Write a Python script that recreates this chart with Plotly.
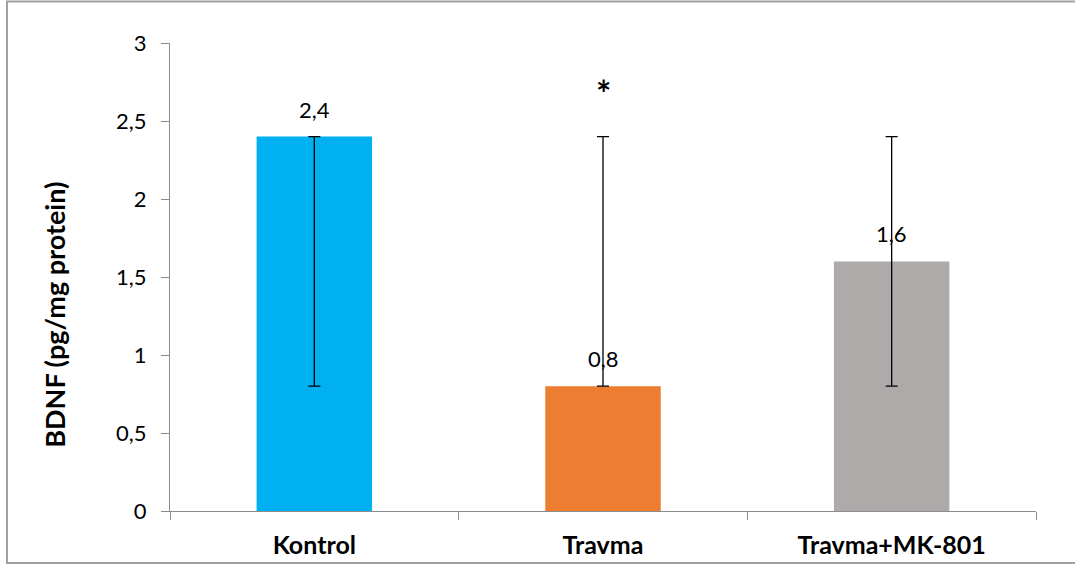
import plotly.graph_objects as go

groups = ["Kontrol", "Travma", "Travma+MK-801"]
bdnf = [2.4, 0.8, 1.6]
err_plus = [0.0, 1.6, 0.8]
err_minus = [1.6, 0.0, 0.8]
bar_colors = ["#00B0F0", "#ED7D31", "#AEAAAA"]
y_ticks = [0, 0.5, 1, 1.5, 2, 2.5, 3]

FONT = "Lato, 'Open Sans', sans-serif"
AXIS_GRAY = "#8C8C8C"

fig = go.Figure()
fig.add_trace(go.Bar(
    x=groups,
    y=bdnf,
    width=0.4,
    marker=dict(color=bar_colors, line=dict(width=0)),
    error_y=dict(type="data", symmetric=False, array=err_plus, arrayminus=err_minus,
                 color="#000000", thickness=1.3, width=6),
    showlegend=False,
))

# value labels just above each bar
for g, v in zip(groups, bdnf):
    fig.add_annotation(x=g, y=v, text=f"{v:.1f}".replace(".", ","), showarrow=False,
                       yanchor="bottom", yshift=12,
                       font=dict(family=FONT, size=22, color="#000000"))

# significance marker above the Travma group
fig.add_annotation(x="Travma", y=2.72, text="<b>*</b>", showarrow=False,
                   yanchor="middle", yshift=-6,
                   font=dict(family=FONT, size=36, color="#000000"))

# y-axis title
fig.add_annotation(xref="paper", yref="paper", x=-0.155, y=0.42,
                   text="<b>BDNF (pg/mg protein)</b>", textangle=-90, showarrow=False,
                   font=dict(family=FONT, size=27, color="#000000"))

# outer chart frame
fig.add_shape(type="rect", xref="paper", yref="paper",
              x0=-0.1882, x1=1.2, y0=-0.111, y1=1.0887,
              line=dict(color="#A0A0A0", width=2), fillcolor="rgba(0,0,0,0)", layer="below")

fig.update_layout(
    width=1075, height=565,
    margin=dict(l=170, r=39, t=43, b=54, autoexpand=False),
    paper_bgcolor="white", plot_bgcolor="white",
    separators=",.",
    xaxis=dict(
        range=[-0.5, 2.5], showline=True, linecolor=AXIS_GRAY, linewidth=1.2,
        ticks="outside", tickson="boundaries", ticklen=8, tickcolor=AXIS_GRAY,
        tickfont=dict(family=FONT, size=25, color="#000000", weight="bold"),
        ticklabelstandoff=12, showgrid=False, zeroline=False, automargin=False,
    ),
    yaxis=dict(
        range=[0, 3], tickvals=y_ticks, showline=True, linecolor=AXIS_GRAY, linewidth=1.2,
        ticks="outside", ticklen=8, tickcolor=AXIS_GRAY,
        tickfont=dict(family=FONT, size=22, color="#000000"),
        ticklabelstandoff=10, showgrid=False, zeroline=False, automargin=False,
    ),
)

fig.write_html("out.html")
